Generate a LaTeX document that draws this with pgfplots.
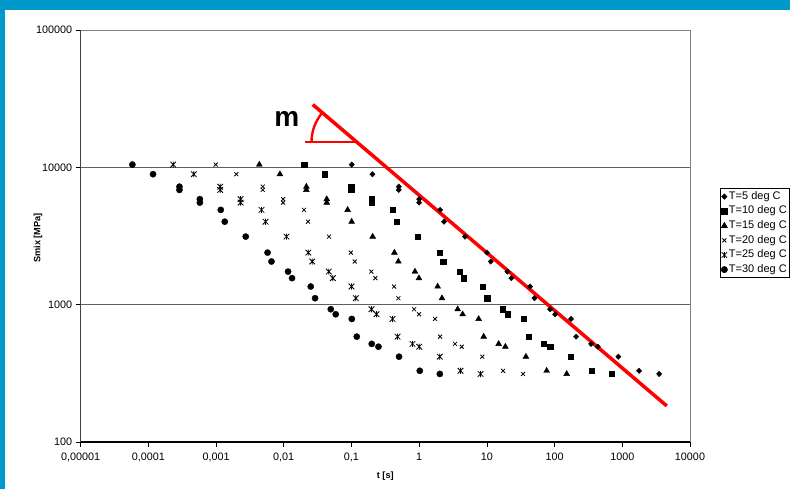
\documentclass[border=0pt]{standalone}
\usepackage{fontspec}
\setmainfont{Liberation Sans}
\usepackage{pgfplots}
\pgfplotsset{compat=1.18}
\definecolor{frameblue}{RGB}{0,153,204}
\definecolor{gridgray}{RGB}{95,95,95}
\pgfdeclareplotmark{xstar}{%
  \pgfpathmoveto{\pgfqpoint{-\pgfplotmarksize}{-\pgfplotmarksize}}%
  \pgfpathlineto{\pgfqpoint{\pgfplotmarksize}{\pgfplotmarksize}}%
  \pgfpathmoveto{\pgfqpoint{-\pgfplotmarksize}{\pgfplotmarksize}}%
  \pgfpathlineto{\pgfqpoint{\pgfplotmarksize}{-\pgfplotmarksize}}%
  \pgfpathmoveto{\pgfqpoint{0pt}{-1.1\pgfplotmarksize}}%
  \pgfpathlineto{\pgfqpoint{0pt}{1.1\pgfplotmarksize}}%
  \pgfusepathqstroke
}
\pgfplotsset{lgm/.style={legend image code/.code={\draw[mark repeat=2,mark phase=2,##1] plot coordinates {(0pt,0pt)(3.5pt,0pt)(7pt,0pt)};}}}

\pgfplotstableread{
t S
0.101 10470
0.204 8910
0.500 7230
0.500 6850
1.00 5865
1.00 5535
2.04 4900
2.33 4020
4.76 3130
10.0 2393
11.4 2061
20.1 1741
23.0 1560
43.5 1355
50.4 1114
85.9 926
102 851
175 787
208 585
346 518
435 494
875 418
1770 330
3500 313
}\tA
\pgfplotstableread{
t S
0.0201 10470
0.0406 8910
0.0998 7230
0.0998 6850
0.1995 5865
0.1995 5535
0.406 4900
0.466 4020
0.951 3130
1.995 2393
2.28 2061
4.01 1741
4.59 1560
8.67 1355
10.05 1114
17.14 926
20.28 851
35.0 787
41.5 585
69.0 518
86.7 494
174.6 418
353 330
698 313
}\tB
\pgfplotstableread{
t S
0.00436 10470
0.00879 8910
0.0216 7230
0.0216 6850
0.0432 5865
0.0432 5535
0.0879 4900
0.1007 4020
0.206 3130
0.4315 2393
0.493 2061
0.867 1741
0.993 1560
1.875 1355
2.173 1114
3.707 926
4.385 851
7.568 787
8.974 585
14.93 518
18.75 494
37.76 418
76.38 330
151.0 313
}\tC
\pgfplotstableread{
t S
0.000989 10470
0.001995 8910
0.004898 7230
0.004898 6850
0.009795 5865
0.009795 5535
0.01995 4900
0.02286 4020
0.04667 3130
0.09795 2393
0.1119 2061
0.1968 1741
0.2254 1560
0.4256 1355
0.4932 1114
0.8414 926
0.9954 851
1.718 787
2.037 585
3.388 518
4.256 494
8.570 418
17.34 330
34.28 313
}\tD
\pgfplotstableread{
t S
0.0002328 10470
0.0004699 8910
0.001153 7230
0.001153 6850
0.002307 5865
0.002307 5535
0.004699 4900
0.005383 4020
0.01099 3130
0.02307 2393
0.02636 2061
0.04634 1741
0.05309 1560
0.1002 1355
0.1161 1114
0.1982 926
0.2344 851
0.4046 787
0.4797 585
0.798 518
1.002 494
2.018 418
4.083 330
8.072 313
}\tE
\pgfplotstableread{
t S
0.00005821 10470
0.0001175 8910
0.0002884 7230
0.0002884 6850
0.0005768 5865
0.0005768 5535
0.001175 4900
0.001346 4020
0.002748 3130
0.005768 2393
0.006592 2061
0.01159 1741
0.01327 1560
0.02506 1355
0.02904 1114
0.04955 926
0.05861 851
0.1012 787
0.1199 585
0.1995 518
0.2506 494
0.5047 418
1.021 330
2.018 313
}\tF

\begin{document}
\begin{tikzpicture}[x=1pt,y=1pt]
\fill[white] (0,0) rectangle (790,489);
\begin{axis}[
  at={(80.6pt,47pt)}, anchor=south west,
  scale only axis, width=609.4pt, height=412pt,
  xmode=log, ymode=log,
  xmin=1e-5, xmax=1e4, ymin=100, ymax=1e5,
  xtick={1e-5,1e-4,1e-3,1e-2,1e-1,1,10,100,1000,10000},
  xticklabels={{0,00001},{0,0001},{0,001},{0,01},{0,1},1,10,100,1000,10000},
  ytick={100,1000,10000,100000},
  yticklabels={100,1000,10000,100000},
  xminorticks=false, yminorticks=false,
  tick pos=left, tick align=outside,
  major tick length=5pt,
  tick style={black, line width=0.6pt},
  ymajorgrids, major grid style={gridgray, line width=0.8pt},
  axis line style={draw=none},
  ticklabel style={font=\fontsize{10.8}{12}\selectfont},
  xticklabel style={yshift=-2.5pt},
  xlabel={t [s]}, ylabel={Smix [MPa]},
  label style={font=\bfseries\fontsize{9.2}{10}\selectfont},
  xlabel style={at={(axis description cs:0.5,-0.0825)}, anchor=center},
  ylabel style={at={(axis description cs:-0.07,0.495)}, anchor=center},
  clip=false,
  legend style={at={(axis description cs:1.0492,0.6160)}, anchor=north west,
    draw=black, line width=0.6pt, font=\fontsize{11}{12}\selectfont,
    inner xsep=1pt, inner ysep=0.8pt, row sep=0pt,
    nodes={text height=8pt, text depth=2.4pt, inner ysep=2.1pt, inner xsep=1.5pt}},
  legend cell align=left,
]
\addplot[only marks, black, mark=diamond*, mark size=2.7pt, mark options={xscale=1.3}, lgm] table {\tA};
\addlegendentry{T=5 deg C}
\addplot[only marks, black, mark=square*, mark size=2.7pt, lgm] table {\tB};
\addlegendentry{T=10 deg C}
\addplot[only marks, black, mark=triangle*, mark size=3.4pt, lgm] table {\tC};
\addlegendentry{T=15 deg C}
\addplot[only marks, black, mark=x, mark size=2.8pt, mark options={line width=0.8pt}, lgm] table {\tD};
\addlegendentry{T=20 deg C}
\addplot[only marks, black, mark=xstar, mark size=2.8pt, mark options={line width=0.8pt}, lgm] table {\tE};
\addlegendentry{T=25 deg C}
\addplot[only marks, black, mark=*, mark size=3.1pt, lgm] table {\tF};
\addlegendentry{T=30 deg C}
\addplot[red, line width=3.5pt, forget plot] coordinates {(0.0268,28650) (4540,183)};
\draw[gray, line width=0.8pt] (rel axis cs:0,1) -- (rel axis cs:1,1) -- (rel axis cs:1,0);
\draw[black, line width=1.2pt] (rel axis cs:0,0) -- (rel axis cs:1,0);
\draw[darkgray, line width=1.5pt] (rel axis cs:0,0) -- (rel axis cs:0,1);
\end{axis}
\draw[red, line width=2.4pt] (305,347) -- (357,347);
\draw[red, line width=2.4pt] (311.5,347) arc[start angle=180, end angle=139.6, radius=45];
\node[font=\bfseries\fontsize{28}{30}\selectfont, inner sep=0pt] at (286.7,369.7) {m};
\fill[frameblue] (0,479) rectangle (790,489);
\fill[frameblue] (0,0) rectangle (5,489);
\pgfresetboundingbox
\path[use as bounding box] (0,0) rectangle (790,489);
\end{tikzpicture}
\end{document}
